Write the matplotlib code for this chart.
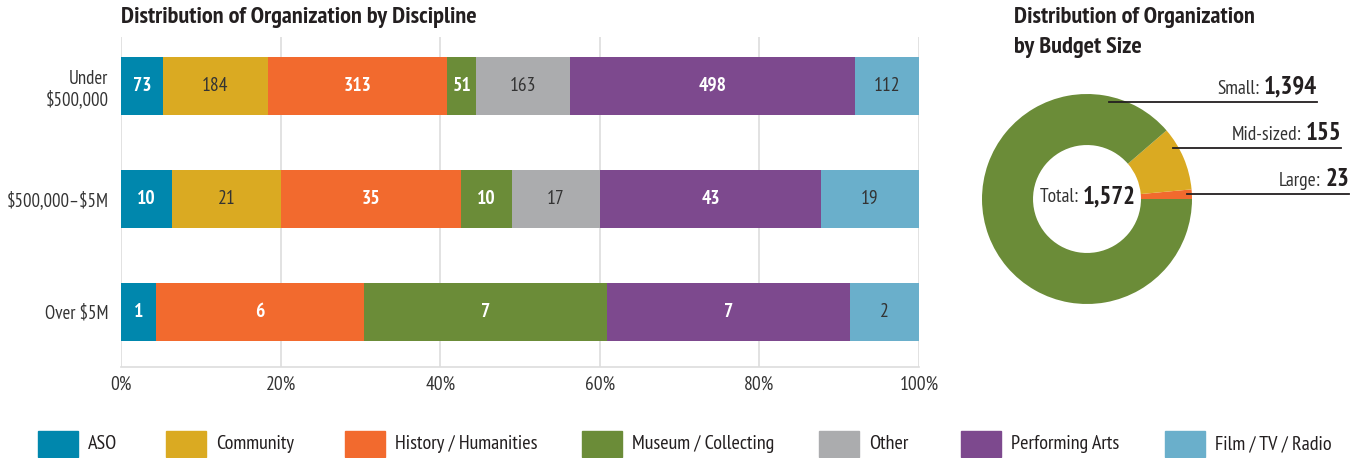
import matplotlib
matplotlib.use('Agg')
import matplotlib.pyplot as plt
from matplotlib.patches import Rectangle
from matplotlib import font_manager
import numpy as np

installed = {f.name for f in font_manager.fontManager.ttflist}
families = [f for f in ['PT Sans Narrow', 'Roboto Condensed', 'Liberation Sans Narrow']
            if f in installed] + ['DejaVu Sans']
plt.rcParams['font.family'] = families
plt.rcParams['text.parse_math'] = False

budget_rows = ['Under\n$500,000', '$500,000–$5M', 'Over $5M']
disciplines = ['ASO', 'Community', 'History / Humanities', 'Museum / Collecting',
               'Other', 'Performing Arts', 'Film / TV / Radio']
colors = ['#0087ad', '#daaa22', '#f26a2e', '#6b8c38', '#abacae', '#7d498e', '#6aafcb']
# white bold labels on the darker segments
light_text = [True, False, True, True, False, True, False]

counts = np.array([
    [73, 184, 313, 51, 163, 498, 112],
    [10, 21, 35, 10, 17, 43, 19],
    [1, 0, 6, 7, 0, 7, 2],
])

size_labels = ['Large', 'Mid-sized', 'Small']
size_counts = [23, 155, 1394]
size_colors = ['#f26a2e', '#daaa22', '#6b8c38']

W, H = 1361, 458
fig = plt.figure(figsize=(W / 100, H / 100), dpi=100)
dark = '#231f20'
grey_txt = '#333333'

# stacked 100% bars
ax = fig.add_axes([121 / W, 1 - 367 / H, 798 / W, 330 / H])
shares = counts / counts.sum(axis=1, keepdims=True) * 100
ypos = np.arange(len(budget_rows))
left = np.zeros(len(budget_rows))
for j, name in enumerate(disciplines):
    ax.barh(ypos, shares[:, j], left=left, height=0.513, color=colors[j], zorder=3)
    for i in range(len(budget_rows)):
        if counts[i, j] > 0:
            ax.text(left[i] + shares[i, j] / 2, ypos[i], str(counts[i, j]),
                    ha='center', va='center', fontsize=14,
                    color='white' if light_text[j] else grey_txt,
                    fontweight='bold' if light_text[j] else 'normal', zorder=4)
    left += shares[:, j]

ax.set_xlim(0, 100)
ax.set_ylim(2.487, -0.434)
ax.set_xticks(np.arange(0, 101, 20))
ax.set_xticklabels([f'{v}%' for v in range(0, 101, 20)], fontsize=14, color=grey_txt)
ax.set_yticks(ypos)
ax.set_yticklabels(budget_rows, fontsize=13.5, color=grey_txt, multialignment='right')
ax.tick_params(axis='y', length=0, pad=9)
ax.tick_params(axis='x', length=0, pad=6)
ax.grid(axis='x', color='#dddddd', linewidth=1.2, zorder=0)
for s in ['top', 'right', 'left']:
    ax.spines[s].set_visible(False)
ax.spines['bottom'].set_color('#dddddd')
ax.spines['bottom'].set_linewidth(1.2)

fig.text(121 / W, 1 - 18 / H, 'Distribution of Organization by Discipline',
         fontsize=17.5, fontweight='bold', color=dark, ha='left', va='center')

# donut by budget size
cx, cy, r = 1087, 199, 105
dax = fig.add_axes([(cx - r) / W, 1 - (cy + r) / H, 2 * r / W, 2 * r / H])
dax.pie(size_counts, colors=size_colors, startangle=0, counterclock=True,
        radius=1, wedgeprops=dict(width=0.486, linewidth=0))
dax.set_xlim(-1, 1)
dax.set_ylim(-1, 1)
dax.axis('off')
dax.text(-0.08, 0.02, 'Total:', ha='right', va='center', fontsize=14, color=grey_txt)
dax.text(-0.04, 0.02, f'{sum(size_counts):,}', ha='left', va='center', fontsize=18,
         fontweight='bold', color=dark)

callouts = [(2.9, 1349), (30.5, 1341), (77, 1317)]
fig.canvas.draw()
for lab, val, (ang, xend) in zip(size_labels, size_counts, callouts):
    a = np.deg2rad(ang)
    x0, y0 = 0.95 * np.cos(a), 0.95 * np.sin(a)
    x1 = (xend - cx) / r
    dax.plot([x0, x1], [y0, y0], color=dark, linewidth=1.3, clip_on=False)
    t = dax.text(x1, y0 + 0.075, f'{val:,}', ha='right', va='baseline', fontsize=18,
                 fontweight='bold', color=dark)
    bb = t.get_window_extent(renderer=fig.canvas.get_renderer())
    bb = bb.transformed(dax.transData.inverted())
    dax.text(bb.x0 - 0.04, y0 + 0.075, f'{lab}:', ha='right', va='baseline',
             fontsize=14, color=grey_txt)

fig.text(1014 / W, 1 - 18 / H, 'Distribution of Organization', fontsize=17.5,
         fontweight='bold', color=dark, ha='left', va='center')
fig.text(1014 / W, 1 - 47 / H, 'by Budget Size', fontsize=17.5,
         fontweight='bold', color=dark, ha='left', va='center')

# legend row
legend_x = [38, 166, 345, 582, 819, 961, 1165]
for x, name, c in zip(legend_x, disciplines, colors):
    fig.add_artist(Rectangle((x / W, 1 - 457 / H), 40 / W, 26 / H,
                             transform=fig.transFigure, color=c))
    fig.text((x + 50) / W, 1 - 444 / H, name, fontsize=14.5, color=dark,
             ha='left', va='center')

fig.savefig('out.png', dpi=100)
